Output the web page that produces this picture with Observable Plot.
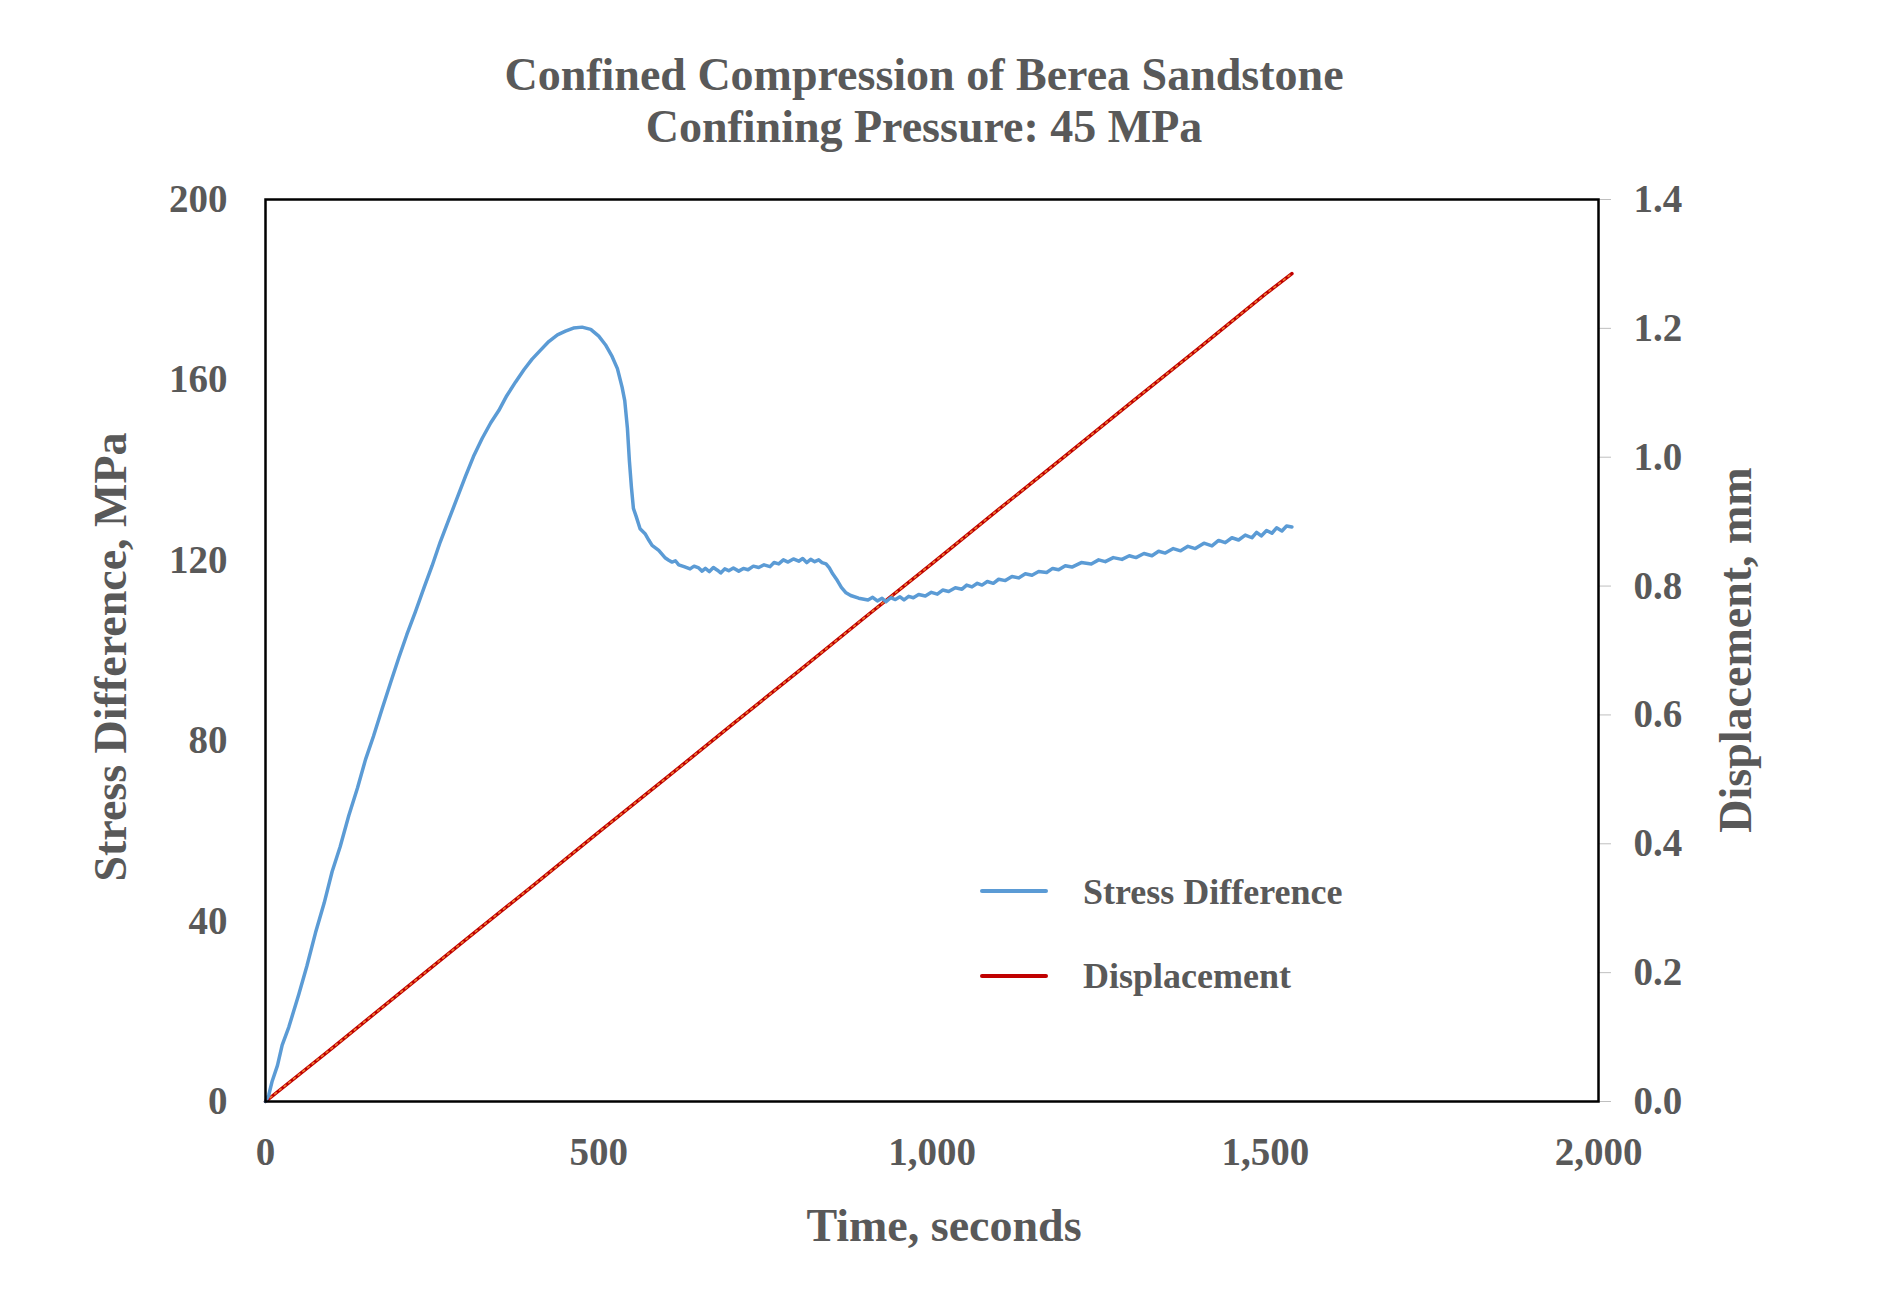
<!DOCTYPE html>
<html>
<head>
<meta charset="utf-8">
<script src="https://cdn.jsdelivr.net/npm/d3@7"></script>
<script src="https://cdn.jsdelivr.net/npm/@observablehq/plot@0.6"></script>
<style>
  html, body { margin: 0; padding: 0; background: #fff; }
  #wrap { position: relative; width: 1898px; height: 1292px; font-family: "Liberation Serif", "Times New Roman", serif; font-weight: bold; color: #595959; }
  #wrap svg { position: absolute; left: 0; top: 0; }
  .abs { position: absolute; white-space: nowrap; }
  .title { transform: translateX(-50%); font-size: 46px; line-height: 52px; text-align: center; }
  .xlab { left: 944px; top: 1202.5px; transform: translateX(-50%); font-size: 46px; line-height: 46px; }
  .ylab { font-size: 46px; line-height: 46px; transform: translate(-50%, -50%) rotate(-90deg); }
  .leg { left: 1083px; font-size: 36px; line-height: 36px; }
  .legline { left: 980px; width: 68px; height: 4px; border-radius: 2px; }
</style>
</head>
<body>
<div id="wrap">
  <div class="abs title" style="left:924px; top:48.5px;">Confined Compression of Berea Sandstone</div>
  <div class="abs title" style="left:924px; top:100.5px;">Confining Pressure: 45 MPa</div>
  <div class="abs xlab">Time, seconds</div>
  <div class="abs ylab" style="left:111px; top:657px;">Stress Difference, MPa</div>
  <div class="abs ylab" style="left:1736px; top:650px;">Displacement, mm</div>
  <div class="abs legline" style="top:889px; background:#5B9BD5;"></div>
  <div class="abs leg" style="top:873.8px;">Stress Difference</div>
  <div class="abs legline" style="top:974px; background:#C00000;"></div>
  <div class="abs leg" style="top:957.8px;">Displacement</div>
</div>
<script>
// ---- Data ----
const stressTime = [0,5,10,18,25,35,50,62,75,88,100,112,125,138,150,162,175,188,200,212,225,238,250,262,275,288,300,312,325,338,350,362,375,388,400,412,425,438,450,462,475,488,500,510,520,528,535,539,543,546,549,552,556,562,569.5,575,580,590,
  600,605,610,615,620,628,637,643,650,655,660,666,672,678,683,689,695,702,710,717,724,732,740,748,757,763,770,777,784,792,800,806,812,818,824,830,835,841,846,851,858,864,871,878,890,
  904,911,918,925,931,938,945,952,958,965,972,980,990,999,1008,1016,1025,1035,1045,1052,1060,1068,1075,1083,1092,1100,1110,1120,1130,1140,1150,1160,1172,1181,1190,1200,1210,1224,1239,1250,1260,1272,1285,1296,1306,1318,1330,1340,1350,1362,1373,1384,1395,1408,1420,1430,1440,1450,1460,1470,1480,1487,1494,1502,1510,1517,1525,1532,1540];
const stressValue = [0,1.5,4.5,8,12.5,16.5,23.8,30,37.4,44,51,56.5,63.4,69.5,75.8,81,87.1,93,98.4,103.5,108.6,114,118.8,124,129,134,138.6,143,147,150.5,153.2,156.5,159.5,162.3,164.6,166.5,168.5,170,170.8,171.5,171.7,171.2,169.7,167.8,165.2,162.5,158.4,155.4,149.3,142,136.2,131.5,129.8,127,125.9,124.5,123.3,122.2,
  120.5,120.0,119.6,119.9,119.0,118.6,118.1,118.7,118.3,117.6,118.2,117.5,118.4,117.8,117.2,118.1,117.7,118.3,117.6,118.2,117.9,118.7,118.4,119.0,118.6,119.5,119.2,120.1,119.6,120.3,119.8,120.4,119.5,120.2,119.7,120.1,119.5,119.2,118.3,117,115.5,114,112.8,112.2,111.6,
  111.2,111.8,111.0,111.6,110.8,111.7,111.3,111.9,111.2,112.0,111.7,112.4,112.1,112.9,112.5,113.4,113.1,113.9,113.6,114.5,114.1,114.9,114.5,115.3,114.9,115.8,115.5,116.4,116.1,117.0,116.7,117.5,117.3,118.2,117.9,118.8,118.5,119.5,119.2,120.1,119.7,120.6,120.2,121.0,120.6,121.5,121.0,122.0,121.6,122.6,122.1,123.1,122.6,123.8,123.2,124.4,123.9,125.0,124.5,125.6,125.0,126.2,125.4,126.6,126.0,127.2,126.5,127.6,127.4];
const dispTime = [0,100,200,300,400,500,600,700,800,900,1000,1100,1200,1300,1400,1500,1540];
const dispValue = [0,0.083,0.167,0.251,0.334,0.418,0.501,0.585,0.668,0.752,0.835,0.919,1.002,1.086,1.169,1.253,1.285];
const xTicks = [0,500,1000,1500,2000];
const stressTicks = [0,40,80,120,160,200];
const dispTicks = [0,0.2,0.4,0.6,0.8,1.0,1.2,1.4];

const stressMax = 200, dispMax = 1.4;
const toStress = d => d * stressMax / dispMax;

const stressData = stressTime.map((t, i) => ({t, s: stressValue[i]}));
const dispData = dispTime.map((t, i) => ({t, d: dispValue[i]}));

const chart = Plot.plot({
  width: 1898,
  height: 1292,
  marginLeft: 265,
  marginRight: 300,
  marginTop: 199,
  marginBottom: 191,
  style: {fontFamily: '"Liberation Serif", "Times New Roman", serif', fontSize: "39px", fontWeight: "bold", color: "#595959", background: "transparent"},
  x: {domain: [0, 2000]},
  y: {domain: [0, stressMax]},
  marks: [
    Plot.axisX({ticks: xTicks, tickSize: 0, tickPadding: 36, tickFormat: d3.format(","), label: null}),
    Plot.axisY({anchor: "left", ticks: stressTicks, tickSize: 0, tickPadding: 38, tickFormat: d3.format("d"), label: null}),
    Plot.axisY({anchor: "right", ticks: dispTicks.map(toStress), tickSize: 12, tickPadding: 23,
      tickFormat: s => d3.format(".1f")(s * dispMax / stressMax), label: null, stroke: "#bfbfbf", fill: "#595959"}),
    Plot.line(dispData, {x: "t", y: d => toStress(d.d), stroke: "#C00000", strokeWidth: 3.5}),
    Plot.line(dispData, {x: "t", y: d => toStress(d.d), stroke: "#ED7D31", strokeWidth: 1.6, strokeDasharray: "2,4"}),
    Plot.line(stressData, {x: "t", y: "s", stroke: "#5B9BD5", strokeWidth: 3.5, strokeLinejoin: "round"}),
    Plot.frame({stroke: "#000", strokeWidth: 2.5})
  ]
});
document.getElementById("wrap").prepend(chart);
</script>
</body>
</html>
